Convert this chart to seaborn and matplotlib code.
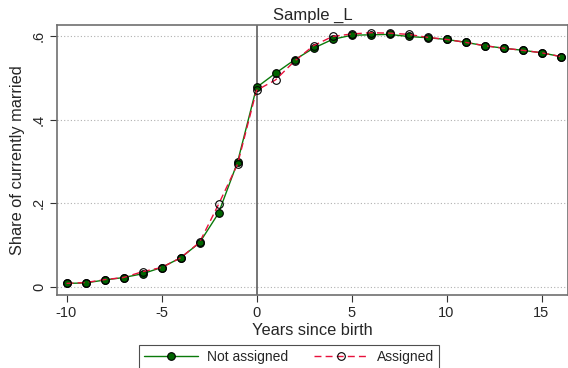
import matplotlib
matplotlib.use("Agg")
import matplotlib.pyplot as plt
import seaborn as sns
import pandas as pd
import numpy as np

years = list(range(-10, 17))
not_assigned = [0.008, 0.009, 0.016, 0.022, 0.031, 0.046, 0.069, 0.105, 0.176, 0.298,
                0.477, 0.511, 0.543, 0.571, 0.592, 0.602, 0.603, 0.604, 0.599, 0.596,
                0.592, 0.585, 0.577, 0.571, 0.566, 0.560, 0.551]
assigned = [0.008, 0.010, 0.017, 0.022, 0.036, 0.046, 0.069, 0.106, 0.197, 0.293,
            0.470, 0.495, 0.540, 0.577, 0.599, 0.605, 0.608, 0.607, 0.604, 0.597,
            0.592, 0.585, 0.577, 0.571, 0.566, 0.560, 0.551]
yticks = [0, 0.2, 0.4, 0.6]
ytick_labels = ["0", ".2", ".4", ".6"]
xticks = [-10, -5, 0, 5, 10, 15]

sns.set_theme(style="white")
plt.rcParams['font.family'] = ['Liberation Sans', 'DejaVu Sans']

df_na = pd.DataFrame({"x": years, "y": not_assigned})
df_a = pd.DataFrame({"x": years, "y": assigned})

fig = plt.figure(figsize=(5.68, 3.68), dpi=100)
ax = fig.add_axes([57/568, 1-295/368, 1.0 - 57/568, (295-25)/368])

for yt in yticks:
    ax.axhline(yt, color="#b0b0b0", lw=0.8, ls=(0, (1, 2)), zorder=0)
ax.axvline(0, color="#505050", lw=1.1, zorder=1)

sns.lineplot(data=df_na, x="x", y="y", ax=ax, color="#0a7a0a", lw=1.0,
             marker="o", markersize=5.5, markerfacecolor="#006400",
             markeredgecolor="black", markeredgewidth=0.8, label="Not assigned", zorder=3)
sns.lineplot(data=df_a, x="x", y="y", ax=ax, color="#e8103c", lw=1.0,
             dashes=False, linestyle=(0, (5, 3)),
             marker="o", markersize=5.5, markerfacecolor="none",
             markeredgecolor="black", markeredgewidth=0.8, label="Assigned", zorder=4)

ax.set_xlim(-10.5, -10.5 + 511/19)
ax.set_ylim(-0.0198, 0.6265)
ax.set_xticks(xticks)
ax.set_xticklabels([str(v) for v in xticks])
ax.set_yticks(yticks)
ax.set_yticklabels(ytick_labels, rotation=90, va="center")
ax.tick_params(axis="both", direction="out", length=5, width=0.8, color="#333333",
               labelsize=10.5, pad=3, left=True, bottom=True)
for s in ["left", "bottom", "top", "right"]:
    ax.spines[s].set_color("#707070")
    ax.spines[s].set_linewidth(1.2)
ax.set_xlabel("Years since birth", fontsize=11.8, labelpad=2)
ax.set_ylabel("Share of currently married", fontsize=11.8, labelpad=5)
ax.set_title("Sample _L", fontsize=12, pad=4)

leg = ax.legend(loc="upper center", bbox_to_anchor=(289/568, 1-345/368),
                bbox_transform=fig.transFigure, ncol=2, frameon=True, fancybox=False,
                fontsize=10, handlelength=3.9, columnspacing=1.8, borderpad=0.35,
                handletextpad=0.65, borderaxespad=0)
leg.get_frame().set_edgecolor("#222222")
leg.get_frame().set_linewidth(0.8)

fig.savefig("out.png", dpi=100)
